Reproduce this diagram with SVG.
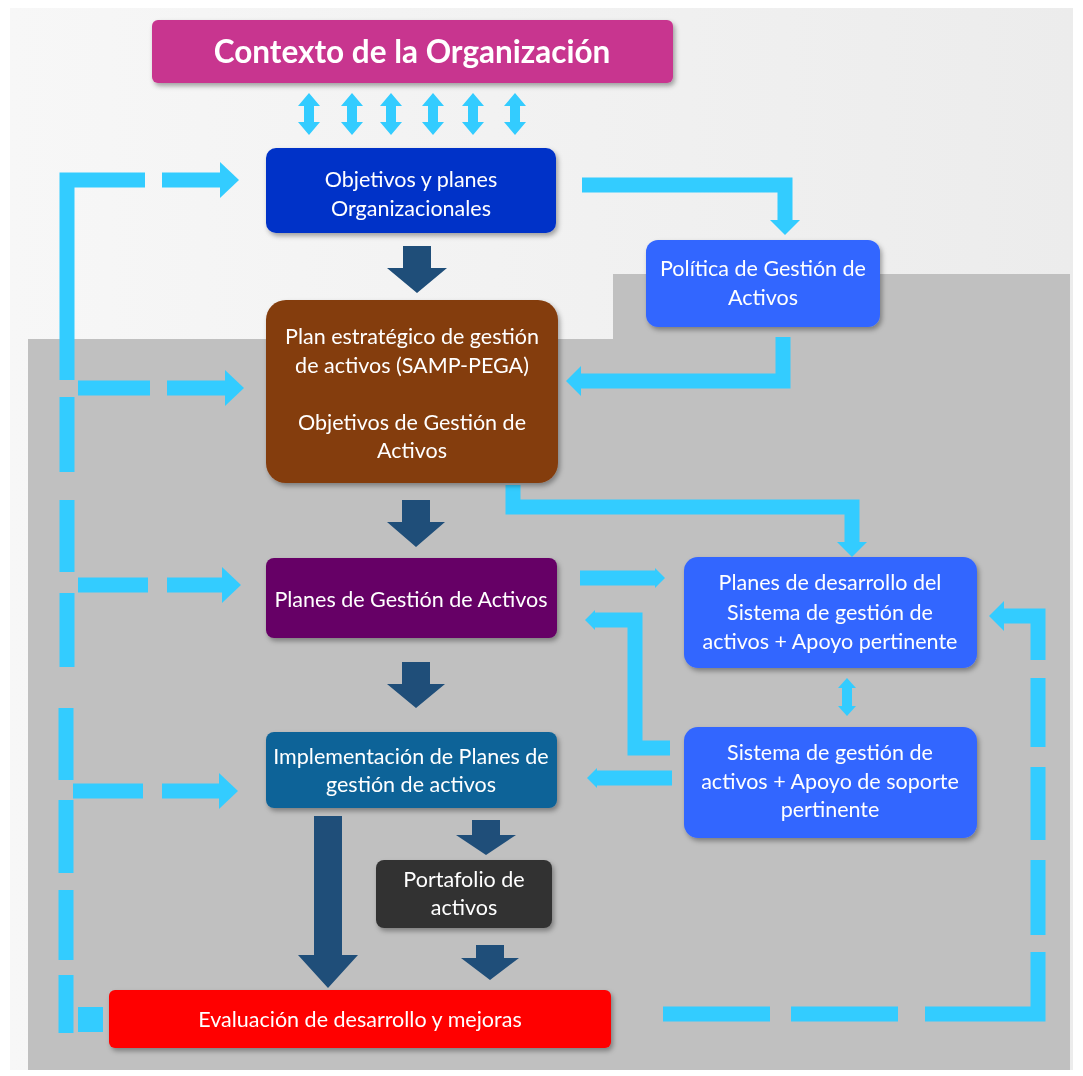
<svg xmlns="http://www.w3.org/2000/svg" width="1083" height="1076" viewBox="0 0 1083 1076">
<defs>
<filter id="sh" x="-10%" y="-10%" width="130%" height="140%">
<feDropShadow dx="2" dy="3" stdDeviation="2.5" flood-color="#000" flood-opacity="0.35"/>
</filter>
<linearGradient id="bgTop" x1="0" y1="0" x2="1" y2="0">
<stop offset="0" stop-color="#f7f7f7"/><stop offset="1" stop-color="#ececec"/>
</linearGradient>
<marker id="hL" markerUnits="userSpaceOnUse" markerWidth="20" markerHeight="36" refX="0" refY="18" orient="auto">
<path d="M0,0 L19,18 L0,36 z" fill="#33ccff"/>
</marker>
<marker id="hS" markerUnits="userSpaceOnUse" markerWidth="16" markerHeight="30" refX="0" refY="15" orient="auto">
<path d="M0,0 L15,15 L0,30 z" fill="#33ccff"/>
</marker>
<marker id="hT" markerUnits="userSpaceOnUse" markerWidth="12" markerHeight="20" refX="0" refY="10" orient="auto">
<path d="M0,0 L10,10 L0,20 z" fill="#33ccff"/>
</marker>
</defs>
<style>
.t{font-family:Lato,"Open Sans","Liberation Sans",sans-serif;fill:#fff;text-anchor:middle;font-size:21.5px}
.title{font-weight:bold;font-size:31.5px}
.lb{fill:none;stroke:#33ccff;stroke-width:15;stroke-linejoin:miter;stroke-linecap:butt}
.lbf{fill:#33ccff}
.dk{fill:#1f4e79}
</style>
<rect x="0" y="0" width="1083" height="1076" fill="#ffffff"/>
<rect x="10" y="8" width="1063" height="1062" fill="url(#bgTop)"/>
<polygon points="28,339 613,339 613,274 1070,274 1070,1070 28,1070" fill="#c0c0c0"/>

<g id="connectors">
<g class="lbf">
<polygon points="309,93 320,106 314,106 314,122 320,122 309,135 298,122 304,122 304,106 298,106"/>
<polygon points="352,93 363,106 357,106 357,122 363,122 352,135 341,122 347,122 347,106 341,106"/>
<polygon points="391,93 402,106 396,106 396,122 402,122 391,135 380,122 386,122 386,106 380,106"/>
<polygon points="433,93 444,106 438,106 438,122 444,122 433,135 422,122 428,122 428,106 422,106"/>
<polygon points="473,93 484,106 478,106 478,122 484,122 473,135 462,122 468,122 468,106 462,106"/>
<polygon points="515,93 526,106 520,106 520,122 526,122 515,135 504,122 510,122 510,106 504,106"/>
</g>
<polygon class="dk" points="403,246 431,246 431,268 447,268 417,293 387,268 403,268"/>
<polygon class="dk" points="402,500 430,500 430,522 445,522 416,547 387,522 402,522"/>
<polygon class="dk" points="402,662 430,662 430,684 445,684 416,708 387,684 402,684"/>
<polygon class="dk" points="314,816 342,816 342,955 358,955 328,988 298,955 314,955"/>
<polygon class="dk" points="472,820 500,820 500,835 516,835 486,855 456,835 472,835"/>
<polygon class="dk" points="476,945 504,945 504,958 519,958 490,980 461,958 476,958"/>

<path class="lb" d="M145,180 H67 V380"/>
<path class="lb" d="M162,180 H220" marker-end="url(#hL)"/>
<path class="lb" d="M78,388 H150"/>
<path class="lb" d="M167,388 H225" marker-end="url(#hL)"/>
<path class="lb" d="M78,585 H148"/>
<path class="lb" d="M167,585 H222" marker-end="url(#hL)"/>
<path class="lb" d="M73,791 H143"/>
<path class="lb" d="M162,791 H219" marker-end="url(#hL)"/>
<path class="lb" d="M67,397 V472 M67,500 V572 M67,593 V667 M66,708 V780 M66,800 V873 M66,890 V960 M66,975 V1033" stroke-width="16"/>
<rect class="lbf" x="78" y="1007" width="25" height="25"/>

<path class="lb" d="M663,1014 H770 M791,1014 H898" stroke-width="18"/>
<path class="lb" d="M925,1014 H1038 V952" stroke-width="18"/>
<path class="lb" d="M1038,860 V935 M1038,767 V840 M1038,678 V747" stroke-width="16"/>
<path class="lb" d="M1038,660 V616 H1004" stroke-width="15" marker-end="url(#hS)"/>

<path class="lb" d="M582,185 H785 V220" stroke-width="15" marker-end="url(#hS)"/>
<path class="lb" d="M783,337 V381 H581" stroke-width="15" marker-end="url(#hS)"/>
<path class="lb" d="M513,485 V507 H852 V542" stroke-width="14" marker-end="url(#hS)"/>
<path class="lb" d="M580,578 H655" stroke-width="15" marker-end="url(#hT)"/>
<path class="lb" d="M670,748 H635 V620 H595" stroke-width="15" marker-end="url(#hT)"/>
<path class="lb" d="M672,778 H597" stroke-width="17" marker-end="url(#hT)"/>
<polygon class="lbf" points="847,678 856,688 852,688 852,706 856,706 847,716 838,706 842,706 842,688 838,688"/>
</g>

<g id="n-contexto" filter="url(#sh)">
<rect x="152" y="20" width="521" height="63" rx="6" fill="#c8368f"/>
<text class="t title" x="412" y="63">Contexto de la Organización</text>
</g>
<g id="n-objetivos" filter="url(#sh)">
<rect x="266" y="148" width="290" height="85" rx="10" fill="#0533c8"/>
<text class="t" x="411" y="187">Objetivos y planes</text>
<text class="t" x="411" y="216">Organizacionales</text>
</g>
<g id="n-politica" filter="url(#sh)">
<rect x="646" y="240" width="234" height="87" rx="12" fill="#3366ff"/>
<text class="t" x="763" y="276">Política de Gestión de</text>
<text class="t" x="763" y="305">Activos</text>
</g>
<g id="n-plan" filter="url(#sh)">
<rect x="266" y="300" width="292" height="183" rx="20" fill="#843c0c"/>
<text class="t" x="412" y="344">Plan estratégico de gestión</text>
<text class="t" x="412" y="373">de activos (SAMP-PEGA)</text>
<text class="t" x="412" y="430">Objetivos de Gestión de</text>
<text class="t" x="412" y="458">Activos</text>
</g>
<g id="n-planes" filter="url(#sh)">
<rect x="266" y="558" width="291" height="80" rx="8" fill="#660066"/>
<text class="t" x="411" y="607">Planes de Gestión de Activos</text>
</g>
<g id="n-implementacion" filter="url(#sh)">
<rect x="266" y="732" width="291" height="76" rx="8" fill="#0e6498"/>
<text class="t" x="411" y="764">Implementación de Planes de</text>
<text class="t" x="411" y="792">gestión de activos</text>
</g>
<g id="n-desarrollo" filter="url(#sh)">
<rect x="684" y="557" width="293" height="111" rx="14" fill="#3366ff"/>
<text class="t" x="830" y="590">Planes de desarrollo del</text>
<text class="t" x="830" y="620">Sistema de gestión de</text>
<text class="t" x="830" y="649">activos + Apoyo pertinente</text>
</g>
<g id="n-sistema" filter="url(#sh)">
<rect x="684" y="727" width="293" height="111" rx="14" fill="#3366ff"/>
<text class="t" x="830" y="760">Sistema de gestión de</text>
<text class="t" x="830" y="789">activos + Apoyo de soporte</text>
<text class="t" x="830" y="817">pertinente</text>
</g>
<g id="n-portafolio" filter="url(#sh)">
<rect x="376" y="860" width="176" height="68" rx="8" fill="#333333"/>
<text class="t" x="464" y="887">Portafolio de</text>
<text class="t" x="464" y="915">activos</text>
</g>
<g id="n-evaluacion" filter="url(#sh)">
<rect x="109" y="990" width="502" height="58" rx="6" fill="#ff0000"/>
<text class="t" x="360" y="1027">Evaluación de desarrollo y mejoras</text>
</g>
</svg>
